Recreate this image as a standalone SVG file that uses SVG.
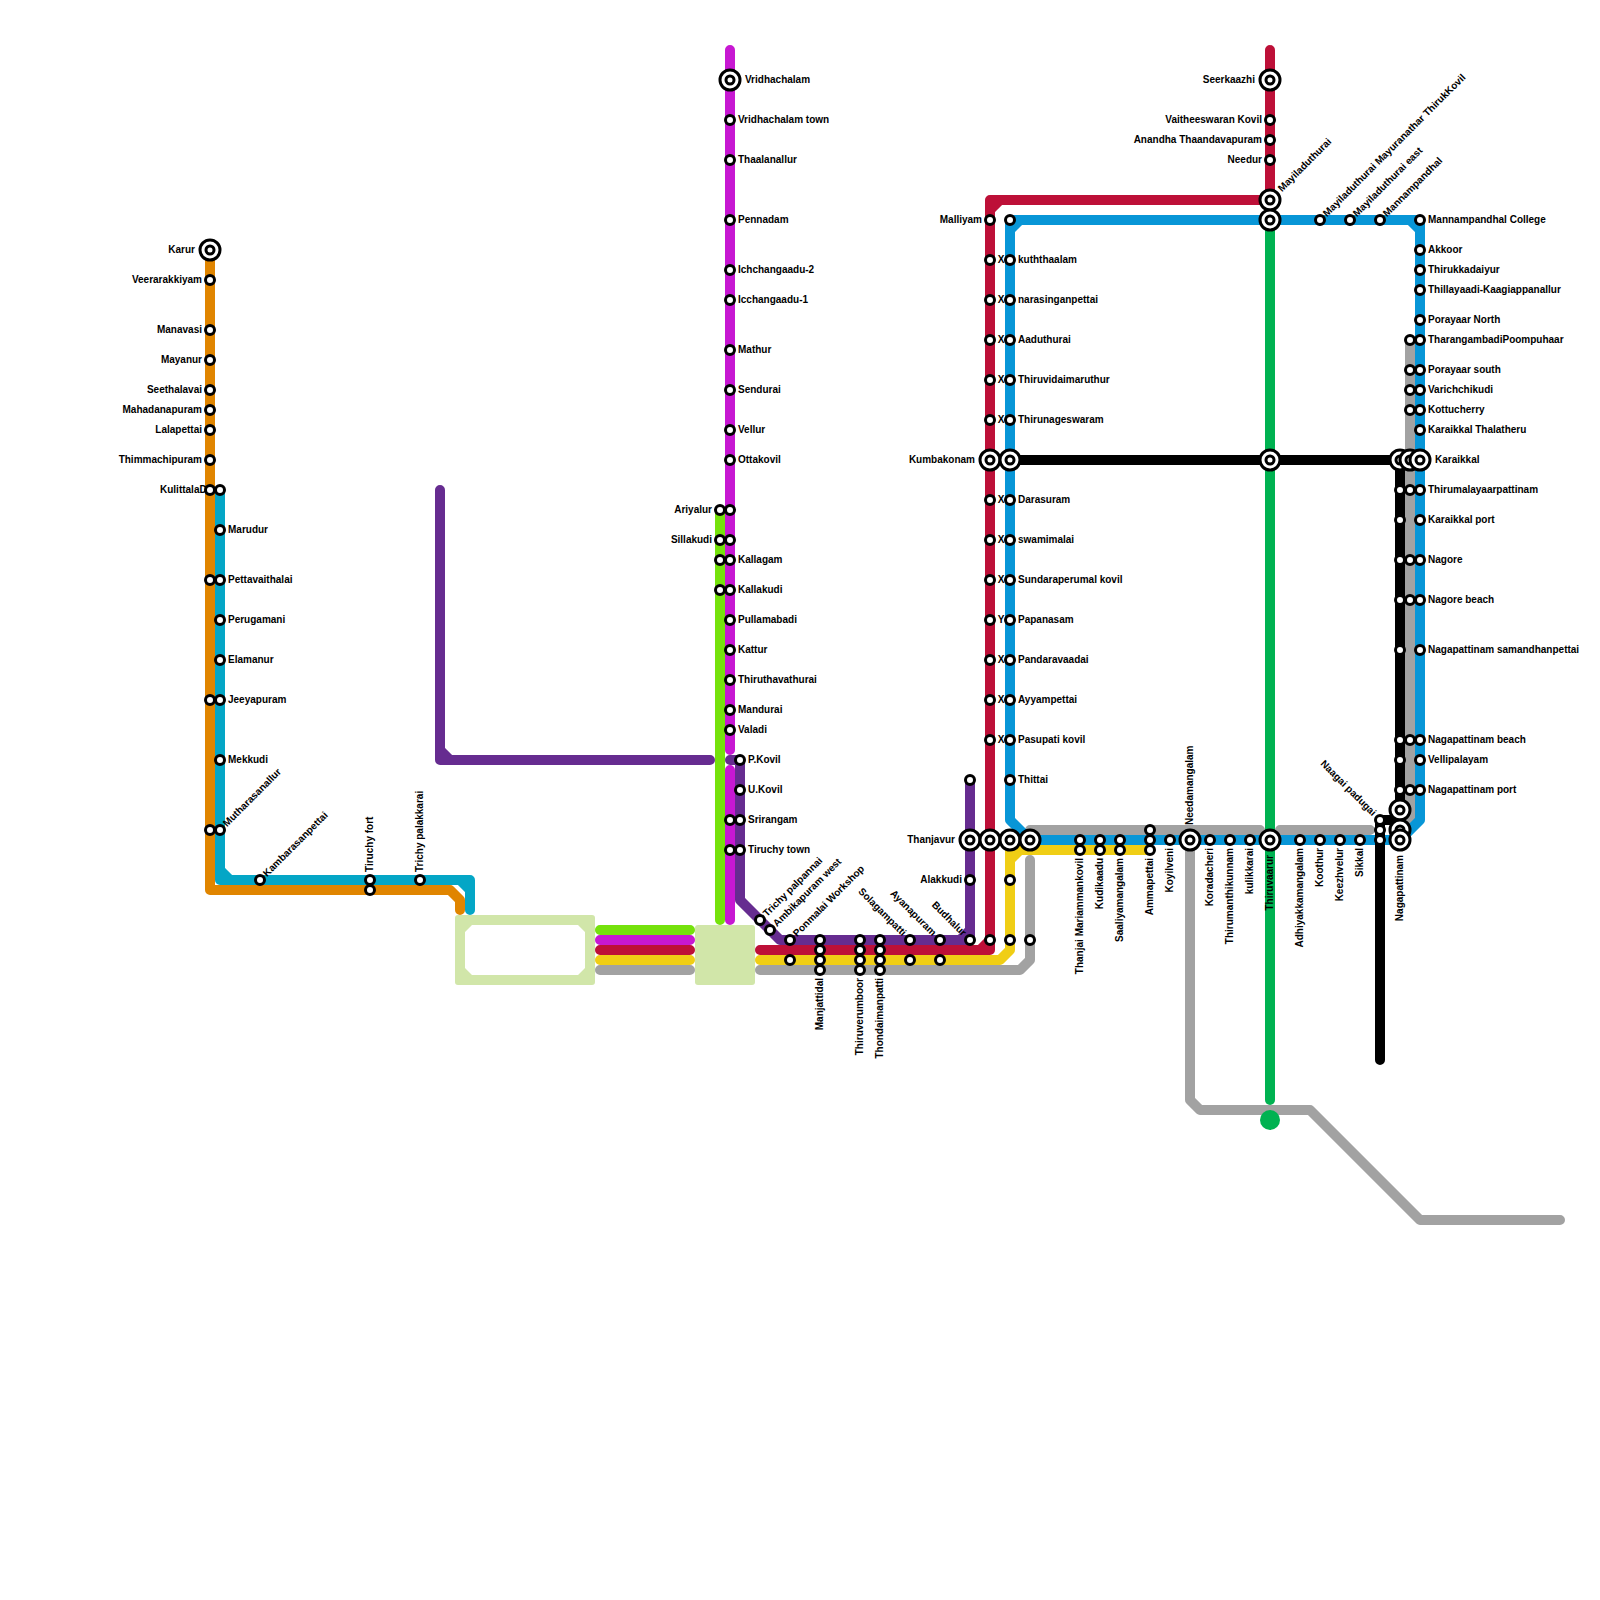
<svg xmlns="http://www.w3.org/2000/svg" width="1600" height="1600" viewBox="0 0 1600 1600">
<style>
text{font-family:"Liberation Sans",Arial,sans-serif;font-weight:bold;font-size:10px;fill:#000}
text:not([transform]){transform:translateY(-1px)}
.e{text-anchor:end}
.m{text-anchor:middle}
#lines path{fill:none;stroke-width:10;stroke-linecap:round;stroke-linejoin:round}
.st{fill:#fff;stroke:#000;stroke-width:3}
</style>
<defs>
<circle id="s" class="st" r="4.5"/>
<g id="b"><circle class="st" r="10"/><circle class="st" r="4"/></g>
</defs>
<rect width="1600" height="1600" fill="#fff"/>
<g id="lines">
<path fill-rule="evenodd" style="fill:#d1e6a9;stroke:none" d="M458 915H592a3 3 0 0 1 3 3V982a3 3 0 0 1 -3 3H458a3 3 0 0 1 -3 -3V918a3 3 0 0 1 3 -3ZM472 925L465 932V968L472 975H578L585 968V932L578 925Z"/>
<rect x="695" y="925" width="60" height="60" rx="3" fill="#d1e6a9"/>
<path stroke="#e08500" d="M210 250V890H450L460 900V910"/>
<path stroke="#04a6c6" d="M220 490V880H470V910M220 870L230 880M460 880L470 890"/>
<path stroke="#75e20c" d="M720 510V920M600 930H690"/>
<path stroke="#c718d2" d="M730 50V750M730 770V920M600 940H690"/>
<path stroke="#662c90" d="M440 490V760H710M440 750L450 760M730 760H740V900L780 940H970V780M960 940L970 930"/>
<path stroke="#bd1038" d="M760 950H990V200H1270V50M600 950H690M980 950L990 940M990 210L1000 200"/>
<path stroke="#f0ce15" d="M760 960H1000L1010 950V850H1150M1010 860L1020 850M600 960H690"/>
<path stroke="#a2a2a2" d="M760 970H1020L1030 960V860M600 970H690M1030 830H1260M1280 830H1370M1410 340V825M1190 840V1100L1200 1110H1310L1420 1220H1560"/>
<path stroke="#0896d7" d="M1010 220H1410L1420 230V820L1400 840H1030L1010 820V220M1010 230L1020 220M1410 220H1420V230"/>
<path stroke="#00b251" d="M1270 220V1100"/>
<path stroke="#000" d="M1010 460H1400V820H1380V1060"/>
<circle cx="1270" cy="1120" r="10" fill="#00b251"/>
</g>
<g id="orange-nodes">
<g id="karur"><text class="e" x="195" y="253.5">Karur</text><use href="#b" x="210" y="250"/></g>
<g id="n1"><text class="e" x="202" y="283.5">Veerarakkiyam</text><use href="#s" x="210" y="280"/></g>
<g id="n2"><text class="e" x="202" y="333.5">Manavasi</text><use href="#s" x="210" y="330"/></g>
<g id="n3"><text class="e" x="202" y="363.5">Mayanur</text><use href="#s" x="210" y="360"/></g>
<g id="n4"><text class="e" x="202" y="393.5">Seethalavai</text><use href="#s" x="210" y="390"/></g>
<g id="n5"><text class="e" x="202" y="413.5">Mahadanapuram</text><use href="#s" x="210" y="410"/></g>
<g id="n6"><text class="e" x="202" y="433.5">Lalapettai</text><use href="#s" x="210" y="430"/></g>
<g id="n7"><text class="e" x="202" y="463.5">Thimmachipuram</text><use href="#s" x="210" y="460"/></g>
<g id="n8"><text x="160" y="493.5">KulittalaDi</text><use href="#s" x="210" y="490"/></g>
<g id="n9"><use href="#s" x="220" y="490"/></g>
<g id="n10"><text x="228" y="533.5">Marudur</text><use href="#s" x="220" y="530"/></g>
<g id="n11"><use href="#s" x="210" y="580"/><use href="#s" x="220" y="580"/><text x="228" y="583.5">Pettavaithalai</text></g>
<g id="n12"><text x="228" y="623.5">Perugamani</text><use href="#s" x="220" y="620"/></g>
<g id="n13"><text x="228" y="663.5">Elamanur</text><use href="#s" x="220" y="660"/></g>
<g id="n14"><use href="#s" x="210" y="700"/><use href="#s" x="220" y="700"/><text x="228" y="703.5">Jeeyapuram</text></g>
<g id="n15"><text x="228" y="763.5">Mekkudi</text><use href="#s" x="220" y="760"/></g>
<g id="n16"><use href="#s" x="210" y="830"/><use href="#s" x="220" y="830"/><text transform="translate(220 830) rotate(-45)" x="7" y="3">Mutharasanallur</text></g>
<g id="n17"><use href="#s" x="260" y="880"/><text transform="translate(260 880) rotate(-45)" x="7" y="3">Kambarasanpettai</text></g>
<g id="n18"><use href="#s" x="370" y="880"/><use href="#s" x="370" y="890"/><text transform="translate(370 880) rotate(-90)" x="8" y="3">Tiruchy fort</text></g>
<g id="n19"><use href="#s" x="420" y="880"/><text transform="translate(420 880) rotate(-90)" x="8" y="3">Trichy palakkarai</text></g>
</g>
<g id="magenta-nodes">
<g id="m1"><use href="#b" x="730" y="80"/><text x="745" y="83.5">Vridhachalam</text></g>
<g id="m2"><use href="#s" x="730" y="120"/><text x="738" y="123.5">Vridhachalam town</text></g>
<g id="m3"><use href="#s" x="730" y="160"/><text x="738" y="163.5">Thaalanallur</text></g>
<g id="m4"><use href="#s" x="730" y="220"/><text x="738" y="223.5">Pennadam</text></g>
<g id="m5"><use href="#s" x="730" y="270"/><text x="738" y="273.5">Ichchangaadu-2</text></g>
<g id="m6"><use href="#s" x="730" y="300"/><text x="738" y="303.5">Icchangaadu-1</text></g>
<g id="m7"><use href="#s" x="730" y="350"/><text x="738" y="353.5">Mathur</text></g>
<g id="m8"><use href="#s" x="730" y="390"/><text x="738" y="393.5">Sendurai</text></g>
<g id="m9"><use href="#s" x="730" y="430"/><text x="738" y="433.5">Vellur</text></g>
<g id="m10"><use href="#s" x="730" y="460"/><text x="738" y="463.5">Ottakovil</text></g>
<g id="m11"><text class="e" x="712" y="513.5">Ariyalur</text><use href="#s" x="720" y="510"/><use href="#s" x="730" y="510"/></g>
<g id="m12"><text class="e" x="712" y="543.5">Sillakudi</text><use href="#s" x="720" y="540"/><use href="#s" x="730" y="540"/></g>
<g id="m13"><use href="#s" x="720" y="560"/><use href="#s" x="730" y="560"/><text x="738" y="563.5">Kallagam</text></g>
<g id="m14"><use href="#s" x="720" y="590"/><use href="#s" x="730" y="590"/><text x="738" y="593.5">Kallakudi</text></g>
<g id="m15"><use href="#s" x="730" y="620"/><text x="738" y="623.5">Pullamabadi</text></g>
<g id="m16"><use href="#s" x="730" y="650"/><text x="738" y="653.5">Kattur</text></g>
<g id="m17"><use href="#s" x="730" y="680"/><text x="738" y="683.5">Thiruthavathurai</text></g>
<g id="m18"><use href="#s" x="730" y="710"/><text x="738" y="713.5">Mandurai</text></g>
<g id="m19"><use href="#s" x="730" y="730"/><text x="738" y="733.5">Valadi</text></g>
</g>
<g id="purple-nodes">
<g id="p1"><use href="#s" x="740" y="760"/><text x="748" y="763.5">P.Kovil</text></g>
<g id="p2"><use href="#s" x="740" y="790"/><text x="748" y="793.5">U.Kovil</text></g>
<g id="p3"><use href="#s" x="730" y="820"/><use href="#s" x="740" y="820"/><text x="748" y="823.5">Srirangam</text></g>
<g id="p4"><use href="#s" x="730" y="850"/><use href="#s" x="740" y="850"/><text x="748" y="853.5">Tiruchy town</text></g>
<g id="p5"><use href="#s" x="760" y="920"/><text transform="translate(760 920) rotate(-45)" x="7" y="3">Trichy palpannai</text></g>
<g id="p6"><use href="#s" x="770" y="930"/><text transform="translate(770 930) rotate(-45)" x="7" y="3">Ambikapuram west</text></g>
<g id="p7"><use href="#s" x="790" y="940"/><use href="#s" x="790" y="960"/><text transform="translate(790 940) rotate(-45)" x="7" y="3">Ponmalai Workshop</text></g>
<g id="p8"><use href="#s" x="820" y="940"/><use href="#s" x="820" y="950"/><use href="#s" x="820" y="960"/><use href="#s" x="820" y="970"/><text class="e" transform="translate(820 970) rotate(-90)" x="-8" y="3">Manjattidal</text></g>
<g id="p9"><use href="#s" x="860" y="940"/><use href="#s" x="860" y="950"/><use href="#s" x="860" y="960"/><use href="#s" x="860" y="970"/><text class="e" transform="translate(860 970) rotate(-90)" x="-8" y="3">Thiruverumboor</text></g>
<g id="p10"><use href="#s" x="880" y="940"/><use href="#s" x="880" y="950"/><use href="#s" x="880" y="960"/><use href="#s" x="880" y="970"/><text class="e" transform="translate(880 970) rotate(-90)" x="-8" y="3">Thondaimanpatti</text></g>
<g id="p11"><use href="#s" x="910" y="940"/><use href="#s" x="910" y="960"/><text class="e" transform="translate(910 940) rotate(45)" x="-8" y="3">Solagampatti</text></g>
<g id="p12"><use href="#s" x="940" y="940"/><use href="#s" x="940" y="960"/><text class="e" transform="translate(940 940) rotate(45)" x="-8" y="3">Ayanapuram</text></g>
<g id="p13"><use href="#s" x="970" y="940"/><text class="e" transform="translate(970 940) rotate(45)" x="-8" y="3">Budhalur</text></g>
<g id="p14"><text class="e" x="962" y="883.5">Alakkudi</text><use href="#s" x="970" y="880"/></g>
<g id="p15"><use href="#s" x="970" y="780"/></g>
<g id="thanjavur"><text class="e" x="955" y="843.5">Thanjavur</text><use href="#b" x="970" y="840"/><use href="#b" x="990" y="840"/><use href="#b" x="1010" y="840"/><use href="#b" x="1030" y="840"/></g>
<g id="c1"><use href="#s" x="990" y="940"/><use href="#s" x="1010" y="940"/><use href="#s" x="1030" y="940"/></g>
<g id="c2"><use href="#s" x="1010" y="880"/></g>
</g>
<g id="crimson-blue-nodes">
<g id="d1"><text class="e" x="982" y="223.5">Malliyam</text><use href="#s" x="990" y="220"/><use href="#s" x="1010" y="220"/></g>
<g id="d2"><use href="#s" x="990" y="260"/><text class="m" x="1001" y="263.5">X</text><use href="#s" x="1010" y="260"/><text x="1018" y="263.5">kuththaalam</text></g>
<g id="d3"><use href="#s" x="990" y="300"/><text class="m" x="1001" y="303.5">X</text><use href="#s" x="1010" y="300"/><text x="1018" y="303.5">narasinganpettai</text></g>
<g id="d4"><use href="#s" x="990" y="340"/><text class="m" x="1001" y="343.5">X</text><use href="#s" x="1010" y="340"/><text x="1018" y="343.5">Aaduthurai</text></g>
<g id="d5"><use href="#s" x="990" y="380"/><text class="m" x="1001" y="383.5">X</text><use href="#s" x="1010" y="380"/><text x="1018" y="383.5">Thiruvidaimaruthur</text></g>
<g id="d6"><use href="#s" x="990" y="420"/><text class="m" x="1001" y="423.5">X</text><use href="#s" x="1010" y="420"/><text x="1018" y="423.5">Thirunageswaram</text></g>
<g id="kumbakonam"><text class="e" x="975" y="463.5">Kumbakonam</text><use href="#b" x="990" y="460"/><use href="#b" x="1010" y="460"/></g>
<g id="d7"><use href="#s" x="990" y="500"/><text class="m" x="1001" y="503.5">X</text><use href="#s" x="1010" y="500"/><text x="1018" y="503.5">Darasuram</text></g>
<g id="d8"><use href="#s" x="990" y="540"/><text class="m" x="1001" y="543.5">X</text><use href="#s" x="1010" y="540"/><text x="1018" y="543.5">swamimalai</text></g>
<g id="d9"><use href="#s" x="990" y="580"/><text class="m" x="1001" y="583.5">X</text><use href="#s" x="1010" y="580"/><text x="1018" y="583.5">Sundaraperumal kovil</text></g>
<g id="d10"><use href="#s" x="990" y="620"/><text class="m" x="1001" y="623.5">Y</text><use href="#s" x="1010" y="620"/><text x="1018" y="623.5">Papanasam</text></g>
<g id="d11"><use href="#s" x="990" y="660"/><text class="m" x="1001" y="663.5">X</text><use href="#s" x="1010" y="660"/><text x="1018" y="663.5">Pandaravaadai</text></g>
<g id="d12"><use href="#s" x="990" y="700"/><text class="m" x="1001" y="703.5">X</text><use href="#s" x="1010" y="700"/><text x="1018" y="703.5">Ayyampettai</text></g>
<g id="d13"><use href="#s" x="990" y="740"/><text class="m" x="1001" y="743.5">X</text><use href="#s" x="1010" y="740"/><text x="1018" y="743.5">Pasupati kovil</text></g>
<g id="d14"><use href="#s" x="1010" y="780"/><text x="1018" y="783.5">Thittai</text></g>
</g>
<g id="row-nodes">
<g id="r1"><use href="#s" x="1080" y="840"/><use href="#s" x="1080" y="850"/><text class="e" transform="translate(1080 850) rotate(-90)" x="-8" y="3">Thanjai Mariammankovil</text></g>
<g id="r2"><use href="#s" x="1100" y="840"/><use href="#s" x="1100" y="850"/><text class="e" transform="translate(1100 850) rotate(-90)" x="-8" y="3">Kudikaadu</text></g>
<g id="r3"><use href="#s" x="1120" y="840"/><use href="#s" x="1120" y="850"/><text class="e" transform="translate(1120 850) rotate(-90)" x="-8" y="3">Saaliyamangalam</text></g>
<g id="r4"><text class="e" transform="translate(1150 850) rotate(-90)" x="-8" y="3">Ammapettai</text><use href="#s" x="1150" y="830"/><use href="#s" x="1150" y="840"/><use href="#s" x="1150" y="850"/></g>
<g id="r5"><use href="#s" x="1170" y="840"/><text class="e" transform="translate(1170 840) rotate(-90)" x="-8" y="3">Koyilveni</text></g>
<g id="r6"><use href="#b" x="1190" y="840"/><text transform="translate(1190 840) rotate(-90)" x="15" y="3">Needamangalam</text></g>
<g id="r7"><use href="#s" x="1210" y="840"/><text class="e" transform="translate(1210 840) rotate(-90)" x="-8" y="3">Koradacheri</text></g>
<g id="r8"><use href="#s" x="1230" y="840"/><text class="e" transform="translate(1230 840) rotate(-90)" x="-8" y="3">Thirumanthikunnam</text></g>
<g id="r9"><use href="#s" x="1250" y="840"/><text class="e" transform="translate(1250 840) rotate(-90)" x="-8" y="3">kulikkarai</text></g>
<g id="r10"><use href="#b" x="1270" y="840"/><text class="e" transform="translate(1270 840) rotate(-90)" x="-15" y="3">Thiruvaarur</text></g>
<g id="r11"><use href="#s" x="1300" y="840"/><text class="e" transform="translate(1300 840) rotate(-90)" x="-8" y="3">Adhiyakkamangalam</text></g>
<g id="r12"><use href="#s" x="1320" y="840"/><text class="e" transform="translate(1320 840) rotate(-90)" x="-8" y="3">Koothur</text></g>
<g id="r13"><use href="#s" x="1340" y="840"/><text class="e" transform="translate(1340 840) rotate(-90)" x="-8" y="3">Keezhvelur</text></g>
<g id="r14"><use href="#s" x="1360" y="840"/><text class="e" transform="translate(1360 840) rotate(-90)" x="-8" y="3">Sikkal</text></g>
<g id="r15"><use href="#s" x="1380" y="820"/><use href="#s" x="1380" y="830"/><use href="#s" x="1380" y="840"/><text class="e" transform="translate(1380 820) rotate(45)" x="-8" y="3">Naagai padugai</text></g>
<g id="nagapattinam"><use href="#b" x="1400" y="810"/><use href="#b" x="1400" y="830"/><use href="#b" x="1400" y="840"/><text class="e" transform="translate(1400 840) rotate(-90)" x="-15" y="3">Nagapattinam</text></g>
</g>
<g id="top-nodes">
<g id="t1"><text class="e" x="1255" y="83.5">Seerkaazhi</text><use href="#b" x="1270" y="80"/></g>
<g id="t2"><text class="e" x="1262" y="123.5">Vaitheeswaran Kovil</text><use href="#s" x="1270" y="120"/></g>
<g id="t3"><text class="e" x="1262" y="143.5">Anandha Thaandavapuram</text><use href="#s" x="1270" y="140"/></g>
<g id="t4"><text class="e" x="1262" y="163.5">Needur</text><use href="#s" x="1270" y="160"/></g>
<g id="t5"><use href="#b" x="1270" y="200"/><text transform="translate(1270 200) rotate(-45)" x="14" y="3">Mayiladuthurai</text></g>
<g id="t6"><use href="#b" x="1270" y="220"/></g>
<g id="t7"><use href="#b" x="1270" y="460"/></g>
<g id="t8"><use href="#s" x="1320" y="220"/><text transform="translate(1320 220) rotate(-45)" x="7" y="3">Mayiladuthurai Mayuranathar ThirukKovil</text></g>
<g id="t9"><use href="#s" x="1350" y="220"/><text transform="translate(1350 220) rotate(-45)" x="7" y="3">Mayiladuthurai east</text></g>
<g id="t10"><use href="#s" x="1380" y="220"/><text transform="translate(1380 220) rotate(-45)" x="7" y="3">Mannampandhal</text></g>
</g>
<g id="right-nodes">
<g id="e1"><use href="#s" x="1420" y="220"/><text x="1428" y="223.5">Mannampandhal College</text></g>
<g id="e2"><use href="#s" x="1420" y="250"/><text x="1428" y="253.5">Akkoor</text></g>
<g id="e3"><use href="#s" x="1420" y="270"/><text x="1428" y="273.5">Thirukkadaiyur</text></g>
<g id="e4"><use href="#s" x="1420" y="290"/><text x="1428" y="293.5">Thillayaadi-Kaagiappanallur</text></g>
<g id="e5"><use href="#s" x="1420" y="320"/><text x="1428" y="323.5">Porayaar North</text></g>
<g id="e6"><use href="#s" x="1410" y="340"/><use href="#s" x="1420" y="340"/><text x="1428" y="343.5">TharangambadiPoompuhaar</text></g>
<g id="e7"><use href="#s" x="1410" y="370"/><use href="#s" x="1420" y="370"/><text x="1428" y="373.5">Porayaar south</text></g>
<g id="e8"><use href="#s" x="1410" y="390"/><use href="#s" x="1420" y="390"/><text x="1428" y="393.5">Varichchikudi</text></g>
<g id="e9"><use href="#s" x="1410" y="410"/><use href="#s" x="1420" y="410"/><text x="1428" y="413.5">Kottucherry</text></g>
<g id="e10"><use href="#s" x="1420" y="430"/><text x="1428" y="433.5">Karaikkal Thalatheru</text></g>
<g id="karaikkal"><use href="#b" x="1400" y="460"/><use href="#b" x="1410" y="460"/><use href="#b" x="1420" y="460"/><text x="1435" y="463.5">Karaikkal</text></g>
<g id="e11"><use href="#s" x="1400" y="490"/><use href="#s" x="1410" y="490"/><use href="#s" x="1420" y="490"/><text x="1428" y="493.5">Thirumalayaarpattinam</text></g>
<g id="e12"><use href="#s" x="1400" y="520"/><use href="#s" x="1420" y="520"/><text x="1428" y="523.5">Karaikkal port</text></g>
<g id="e13"><use href="#s" x="1400" y="560"/><use href="#s" x="1410" y="560"/><use href="#s" x="1420" y="560"/><text x="1428" y="563.5">Nagore</text></g>
<g id="e14"><use href="#s" x="1400" y="600"/><use href="#s" x="1410" y="600"/><use href="#s" x="1420" y="600"/><text x="1428" y="603.5">Nagore beach</text></g>
<g id="e15"><use href="#s" x="1400" y="650"/><use href="#s" x="1420" y="650"/><text x="1428" y="653.5">Nagapattinam samandhanpettai</text></g>
<g id="e16"><use href="#s" x="1400" y="740"/><use href="#s" x="1410" y="740"/><use href="#s" x="1420" y="740"/><text x="1428" y="743.5">Nagapattinam beach</text></g>
<g id="e17"><use href="#s" x="1400" y="760"/><use href="#s" x="1420" y="760"/><text x="1428" y="763.5">Vellipalayam</text></g>
<g id="e18"><use href="#s" x="1400" y="790"/><use href="#s" x="1410" y="790"/><use href="#s" x="1420" y="790"/><text x="1428" y="793.5">Nagapattinam port</text></g>
</g>
</svg>
